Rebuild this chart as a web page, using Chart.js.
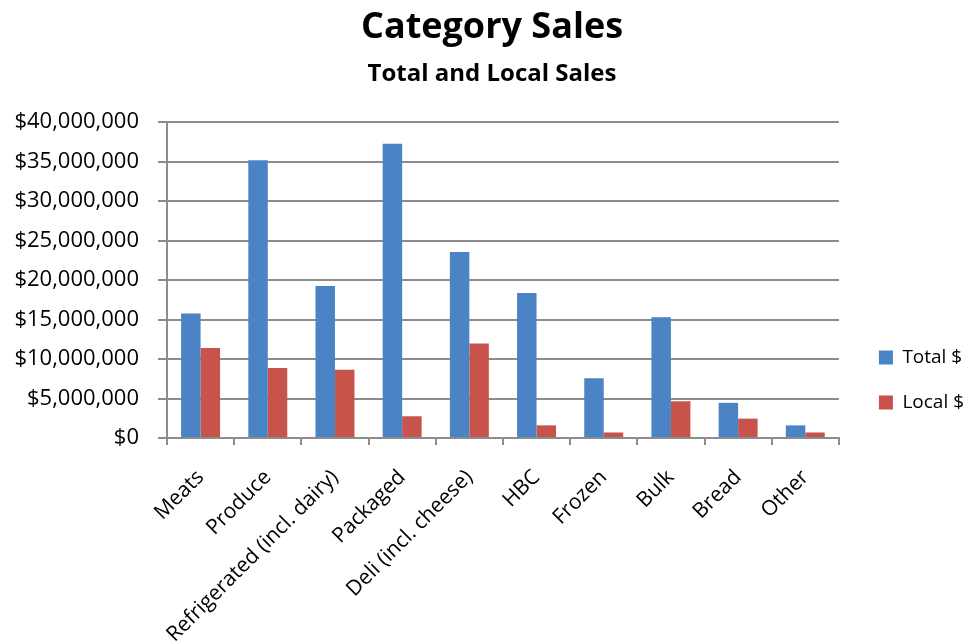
<!DOCTYPE html>
<html>
<head>
<meta charset="utf-8">
<script src="https://cdn.jsdelivr.net/npm/chart.js@4/dist/chart.umd.min.js"></script>
<style>
	html, body { margin: 0; padding: 0; background: #fff; }
	#wrap { width: 968px; height: 644px; }
</style>
</head>
<body>
<div id="wrap"><canvas id="chartCategorias"></canvas></div>
<script>
const categorias = [
	"Meats",
	"Produce",
	"Refrigerated (incl. dairy)",
	"Packaged",
	"Deli (incl. cheese)",
	"HBC",
	"Frozen",
	"Bulk",
	"Bread",
	"Other",
];

const vendasTotais = [15750000, 35150000, 19250000, 37250000, 23550000, 18350000, 7550000, 15300000, 4450000, 1600000];
const vendasLocais = [11400000, 8850000, 8650000, 2750000, 11950000, 1600000, 700000, 4650000, 2450000, 700000];

const ticksY = [0, 5000000, 10000000, 15000000, 20000000, 25000000, 30000000, 35000000, 40000000];

const fonte = "'Open Sans', sans-serif";

const dataCategorias = {
	labels: categorias,
	datasets: [
		{
			label: "Total $",
			backgroundColor: "#4a84c4",
			data: vendasTotais,
		},
		{
			label: "Local $",
			backgroundColor: "#c8534b",
			data: vendasLocais,
		},
	],
};

const configCategorias = {
	type: "bar",
	data: dataCategorias,
	options: {
		responsive: true,
		maintainAspectRatio: false,
		animation: false,
		layout: { padding: { left: 10, right: -6, top: 0, bottom: 0 } },
		datasets: {
			bar: { categoryPercentage: 0.58, barPercentage: 1.0 },
		},
		plugins: {
			title: {
				display: true,
				text: "Category Sales",
				color: "#000",
				font: { family: fonte, size: 36, weight: "bold" },
				padding: { top: 6, bottom: 11 },
			},
			subtitle: {
				display: true,
				text: "Total and Local Sales",
				color: "#000",
				font: { family: fonte, size: 24, weight: "bold" },
				padding: { top: 0, bottom: 33 },
			},
			legend: {
				position: "right",
				align: "end",
				fullSize: false,
				labels: {
					color: "#000",
					boxWidth: 14,
					boxHeight: 14,
					padding: 26,
					font: { family: fonte, size: 19 },
				},
			},
			tooltip: { enabled: false },
		},
		scales: {
			x: {
				afterFit: (eixo) => {
					eixo.height = 206;
				},
				grid: {
					display: true,
					drawOnChartArea: false,
					drawTicks: true,
					tickLength: 7,
					color: "#8c8c8c",
					lineWidth: 2,
				},
				border: { color: "#8c8c8c", width: 2 },
				ticks: {
					color: "#000",
					minRotation: 45,
					maxRotation: 45,
					autoSkip: false,
					padding: 20,
					font: { family: fonte, size: 21 },
				},
			},
			y: {
				min: 0,
				max: 40000000,
				afterBuildTicks: (eixo) => {
					eixo.ticks = ticksY.map((v) => ({ value: v }));
				},
				afterFit: (eixo) => {
					eixo.width = 157;
				},
				grid: {
					color: "#8c8c8c",
					lineWidth: 2,
					tickLength: 9,
				},
				border: { color: "#8c8c8c", width: 2 },
				ticks: {
					color: "#000",
					padding: 19,
					font: { family: fonte, size: 22 },
					callback: (valor) => "$" + Number(valor).toLocaleString("en-US"),
				},
			},
			// eixo vazio só para dar espaço entre o gráfico e a legenda
			espaco: {
				position: "right",
				afterFit: (eixo) => {
					eixo.width = 14;
				},
				grid: { display: false },
				border: { display: false },
				ticks: { display: false },
			},
		},
	},
};

const graficoCategorias = new Chart(
	document.getElementById("chartCategorias"),
	configCategorias,
);
</script>
</body>
</html>
